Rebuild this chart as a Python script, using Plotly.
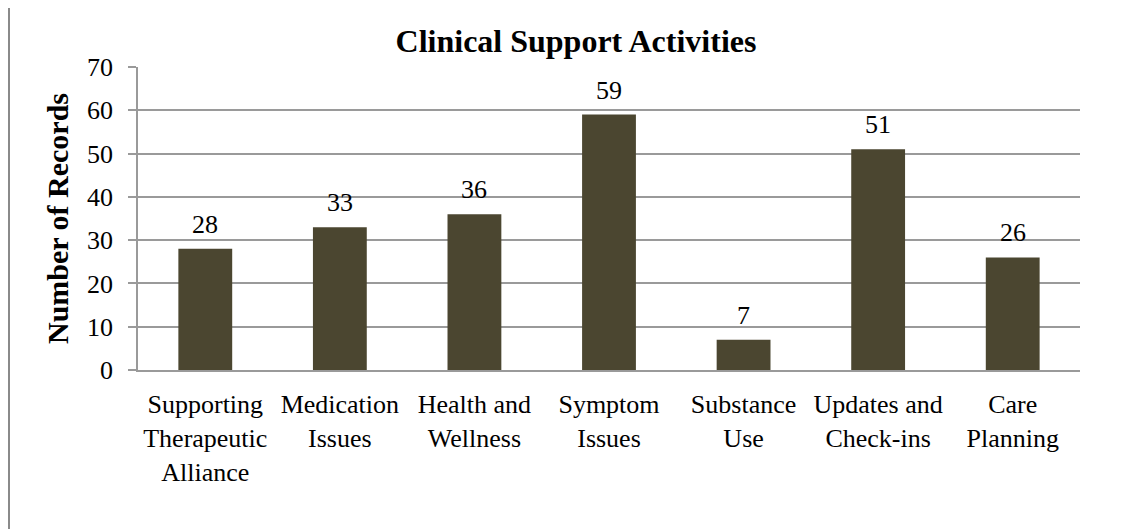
import plotly.graph_objects as go

categories = [
    "Supporting<br>Therapeutic<br>Alliance",
    "Medication<br>Issues",
    "Health and<br>Wellness",
    "Symptom<br>Issues",
    "Substance<br>Use",
    "Updates and<br>Check-ins",
    "Care<br>Planning",
]
records = [28, 33, 36, 59, 7, 51, 26]
y_ticks = [0, 10, 20, 30, 40, 50, 60, 70]

SERIF = "Liberation Serif, Times New Roman, serif"
BAR_COLOR = "#4b4630"
GRID = "#9a9a9a"

fig = go.Figure(
    go.Bar(
        x=categories,
        y=records,
        marker=dict(color=BAR_COLOR, line=dict(width=0)),
        hovertemplate="%{x}: %{y}<extra></extra>",
    )
)

# value labels above the bars
for cat, val in zip(categories, records):
    fig.add_annotation(
        x=cat,
        y=val,
        text=str(val),
        showarrow=False,
        yanchor="bottom",
        yshift=8,
        font=dict(family=SERIF, size=26, color="#000000"),
    )

fig.update_layout(
    width=1133,
    height=529,
    paper_bgcolor="white",
    plot_bgcolor="white",
    showlegend=False,
    bargap=0.6,
    margin=dict(l=130, r=61, t=59, b=167),
    font=dict(family=SERIF, size=26, color="#000000"),
    title=dict(
        text="<b>Clinical Support Activities</b>",
        font=dict(family=SERIF, size=32, color="#000000"),
        x=568 / 1133,
        xanchor="center",
        y=1 - 33 / 529,
        yanchor="middle",
    ),
)

fig.update_yaxes(
    range=[0, 70],
    tickvals=y_ticks,
    showgrid=True,
    gridcolor=GRID,
    gridwidth=1.5,
    zeroline=False,
    showline=True,
    linecolor=GRID,
    linewidth=1.5,
    ticks="outside",
    ticklen=8,
    tickcolor=GRID,
    tickwidth=1.5,
    ticklabelstandoff=10,
    tickfont=dict(family=SERIF, size=26),
    title=dict(
        text="<b>Number of Records</b>",
        font=dict(family=SERIF, size=30),
        standoff=10,
    ),
)

fig.update_xaxes(
    showline=True,
    linecolor=GRID,
    linewidth=1.5,
    ticks="",
    ticklabelstandoff=10,
    tickfont=dict(family=SERIF, size=26),
)

# outer frame (only left and top edges fall inside the picture)
fig.add_shape(
    type="rect",
    xref="paper",
    yref="paper",
    x0=(1 - 130) / 942,
    x1=(1140 - 130) / 942,
    y0=(362 - 540) / 303,
    y1=(362 + 5) / 303,
    line=dict(color="#8a8a8a", width=2),
    fillcolor="rgba(0,0,0,0)",
    layer="below",
)

fig.write_html("out.html")
